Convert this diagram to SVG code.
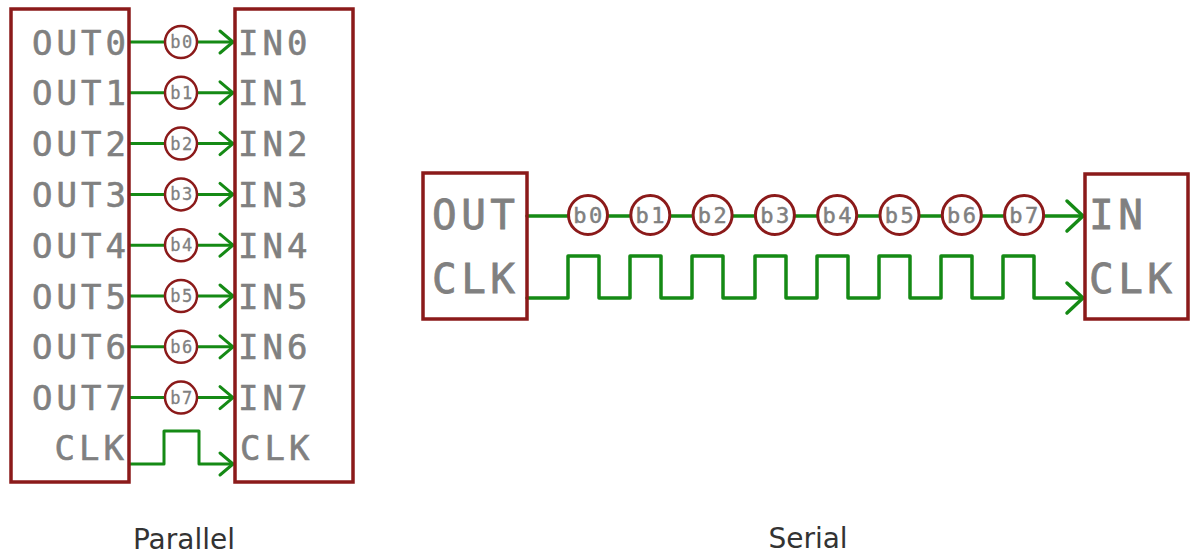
<svg xmlns="http://www.w3.org/2000/svg" width="1190" height="554" viewBox="0 0 1190 554">
<defs>
<style>
.box{fill:none;stroke:#8b1a1a;stroke-width:3.5}
.wire{fill:none;stroke:#158a15;stroke-width:3;stroke-linejoin:round;stroke-linecap:round}
.wire2{fill:none;stroke:#158a15;stroke-width:3.5;stroke-linejoin:round;stroke-linecap:round}
.bit{fill:#fff;stroke:#8b1a1a;stroke-width:2.5}
.bit2{fill:#fff;stroke:#8b1a1a;stroke-width:3}
.pin{font-family:"DejaVu Sans Mono",monospace;font-size:34px;fill:#808080;stroke:#808080;stroke-width:0.6;letter-spacing:4px}
.pin2{font-family:"DejaVu Sans Mono",monospace;font-size:41px;fill:#808080;stroke:#808080;stroke-width:0.8;letter-spacing:4.5px}
.bt{font-family:"DejaVu Sans Mono",monospace;font-size:17px;fill:#808080;stroke:#808080;stroke-width:0.3;letter-spacing:1.5px;text-anchor:middle}
.bt2{font-family:"DejaVu Sans Mono",monospace;font-size:22px;fill:#808080;stroke:#808080;stroke-width:0.5;letter-spacing:2.5px;text-anchor:middle}
.cap{font-family:"DejaVu Sans",sans-serif;font-size:28px;fill:#333;text-anchor:middle}
</style>
<marker id="arr" markerUnits="userSpaceOnUse" markerWidth="20" markerHeight="30" viewBox="-16 -15 20 30" refX="0" refY="0" orient="auto">
<path d="M-13,-11 L0,0 L-13,11" fill="none" stroke="#158a15" stroke-width="3" stroke-linecap="round" stroke-linejoin="round"/>
</marker>
<marker id="arr2" markerUnits="userSpaceOnUse" markerWidth="24" markerHeight="40" viewBox="-20 -20 24 40" refX="0" refY="0" orient="auto">
<path d="M-16,-15 L0,0 L-16,15" fill="none" stroke="#158a15" stroke-width="3.5" stroke-linecap="round" stroke-linejoin="round"/>
</marker>
</defs>
<rect width="1190" height="554" fill="#fff"/>

<g id="connectors">
<path class="wire" marker-end="url(#arr)" d="M130,42 H233"/>
<path class="wire" marker-end="url(#arr)" d="M130,92.8 H233"/>
<path class="wire" marker-end="url(#arr)" d="M130,143.6 H233"/>
<path class="wire" marker-end="url(#arr)" d="M130,194.4 H233"/>
<path class="wire" marker-end="url(#arr)" d="M130,245.2 H233"/>
<path class="wire" marker-end="url(#arr)" d="M130,296 H233"/>
<path class="wire" marker-end="url(#arr)" d="M130,346.8 H233"/>
<path class="wire" marker-end="url(#arr)" d="M130,397.6 H233"/>
<path class="wire" marker-end="url(#arr)" d="M130,464 H164 V431 H199 V464 H233"/>
<path class="wire2" marker-end="url(#arr2)" d="M527,216 H1083"/>
<path class="wire2" marker-end="url(#arr2)" d="M527,298 H568 V256 H599 V298 H630 V256 H661 V298 H692 V256 H723 V298 H755 V256 H786 V298 H817 V256 H848 V298 H879 V256 H910 V298 H941 V256 H972 V298 H1003 V256 H1034 V298 H1083"/>
</g>

<g id="parallel-out">
<rect class="box" x="11" y="9" width="118" height="473"/>
<g class="pin" text-anchor="end">
<text x="130" y="54.5">OUT0</text>
<text x="130" y="105.3">OUT1</text>
<text x="130" y="156.1">OUT2</text>
<text x="130" y="206.9">OUT3</text>
<text x="130" y="257.7">OUT4</text>
<text x="130" y="308.5">OUT5</text>
<text x="130" y="359.3">OUT6</text>
<text x="130" y="410.1">OUT7</text>
<text x="128" y="460">CLK</text>
</g>
</g>

<g id="parallel-in">
<rect class="box" x="235" y="9" width="118" height="473"/>
<g class="pin">
<text x="238" y="54.5">IN0</text>
<text x="238" y="105.3">IN1</text>
<text x="238" y="156.1">IN2</text>
<text x="238" y="206.9">IN3</text>
<text x="238" y="257.7">IN4</text>
<text x="238" y="308.5">IN5</text>
<text x="238" y="359.3">IN6</text>
<text x="238" y="410.1">IN7</text>
<text x="240" y="460">CLK</text>
</g>
</g>

<g id="parallel-bits">
<g id="pb0"><circle class="bit" cx="181" cy="42" r="16"/><text class="bt" x="182" y="48">b0</text></g>
<g id="pb1"><circle class="bit" cx="181" cy="92.8" r="16"/><text class="bt" x="182" y="98.8">b1</text></g>
<g id="pb2"><circle class="bit" cx="181" cy="143.6" r="16"/><text class="bt" x="182" y="149.6">b2</text></g>
<g id="pb3"><circle class="bit" cx="181" cy="194.4" r="16"/><text class="bt" x="182" y="200.4">b3</text></g>
<g id="pb4"><circle class="bit" cx="181" cy="245.2" r="16"/><text class="bt" x="182" y="251.2">b4</text></g>
<g id="pb5"><circle class="bit" cx="181" cy="296" r="16"/><text class="bt" x="182" y="302">b5</text></g>
<g id="pb6"><circle class="bit" cx="181" cy="346.8" r="16"/><text class="bt" x="182" y="352.8">b6</text></g>
<g id="pb7"><circle class="bit" cx="181" cy="397.6" r="16"/><text class="bt" x="182" y="403.6">b7</text></g>
</g>

<g id="serial-out">
<rect class="box" x="423" y="173" width="104" height="146"/>
<text class="pin2" x="432" y="229">OUT</text>
<text class="pin2" x="432" y="293">CLK</text>
</g>

<g id="serial-in">
<rect class="box" x="1085" y="174" width="103" height="145"/>
<text class="pin2" x="1089" y="229">IN</text>
<text class="pin2" x="1089" y="293">CLK</text>
</g>

<g id="serial-bits">
<g id="sb0"><circle class="bit2" cx="588" cy="215" r="19.5"/><text class="bt2" x="589" y="223">b0</text></g>
<g id="sb1"><circle class="bit2" cx="650.3" cy="215" r="19.5"/><text class="bt2" x="651.3" y="223">b1</text></g>
<g id="sb2"><circle class="bit2" cx="712.6" cy="215" r="19.5"/><text class="bt2" x="713.6" y="223">b2</text></g>
<g id="sb3"><circle class="bit2" cx="774.9" cy="215" r="19.5"/><text class="bt2" x="775.9" y="223">b3</text></g>
<g id="sb4"><circle class="bit2" cx="837.2" cy="215" r="19.5"/><text class="bt2" x="838.2" y="223">b4</text></g>
<g id="sb5"><circle class="bit2" cx="899.5" cy="215" r="19.5"/><text class="bt2" x="900.5" y="223">b5</text></g>
<g id="sb6"><circle class="bit2" cx="961.8" cy="215" r="19.5"/><text class="bt2" x="962.8" y="223">b6</text></g>
<g id="sb7"><circle class="bit2" cx="1024.1" cy="215" r="19.5"/><text class="bt2" x="1025.1" y="223">b7</text></g>
</g>

<g id="captions">
<text class="cap" x="184" y="549">Parallel</text>
<text class="cap" x="808" y="548">Serial</text>
</g>
</svg>
